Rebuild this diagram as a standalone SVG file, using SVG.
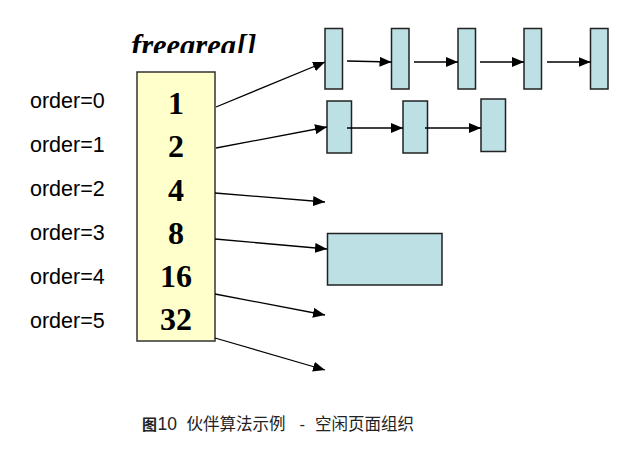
<svg xmlns="http://www.w3.org/2000/svg" width="632" height="452" viewBox="0 0 632 452">
<defs>
<style>
.lbl{font-family:"Liberation Sans",Arial,sans-serif;font-size:21.5px;fill:#000}
.num{font-family:"Liberation Serif","Times New Roman",serif;font-size:32px;font-weight:bold;fill:#000;text-anchor:middle}
.blk{fill:#BCE0E3;stroke:#222;stroke-width:1.5}
.con{stroke:#000;stroke-width:1.3;fill:none;marker-end:url(#ah)}
.cap{font-family:"Liberation Sans",Arial,"Noto Sans CJK SC",sans-serif;font-size:16.5px;fill:#222}
</style>
<marker id="ah" viewBox="0 0 12 10" refX="12" refY="5" markerWidth="12" markerHeight="10" markerUnits="userSpaceOnUse" orient="auto">
<path d="M0,0 L12,5 L0,10 Z" fill="#000"/>
</marker>
<clipPath id="tc"><rect x="100" y="20" width="200" height="33"/></clipPath>
</defs>
<rect width="632" height="452" fill="#fff"/>
<g id="title" clip-path="url(#tc)">
<text x="131" y="56" font-family="Liberation Serif,'Times New Roman',serif" font-size="30.5" font-weight="bold" font-style="italic" fill="#000">freearea[]</text>
</g>
<g id="labels">
<text class="lbl" x="30" y="108">order=0</text>
<text class="lbl" x="30" y="152">order=1</text>
<text class="lbl" x="30" y="196">order=2</text>
<text class="lbl" x="30" y="240">order=3</text>
<text class="lbl" x="30" y="284">order=4</text>
<text class="lbl" x="30" y="328">order=5</text>
</g>
<g id="freearea">
<rect x="137" y="72" width="78" height="269" fill="#FFFFCC" stroke="#333" stroke-width="1.5"/>
<text class="num" x="176" y="114">1</text>
<text class="num" x="176" y="157">2</text>
<text class="num" x="176" y="201">4</text>
<text class="num" x="176" y="244">8</text>
<text class="num" x="176" y="287">16</text>
<text class="num" x="176" y="330">32</text>
</g>
<g id="order0-blocks">
<rect class="blk" x="325" y="28.5" width="17.5" height="60.5"/>
<rect class="blk" x="391.5" y="28.5" width="17.5" height="60.5"/>
<rect class="blk" x="458" y="28.5" width="17.5" height="60.5"/>
<rect class="blk" x="524" y="28.5" width="17.5" height="60.5"/>
<rect class="blk" x="590.5" y="28.5" width="17.5" height="60.5"/>
</g>
<g id="order1-blocks">
<rect class="blk" x="327" y="101" width="24.5" height="52"/>
<rect class="blk" x="403" y="101" width="24.5" height="52"/>
<rect class="blk" x="481" y="99" width="24.5" height="52.5"/>
</g>
<g id="order3-block">
<rect class="blk" x="327.5" y="233.5" width="114.5" height="51.5"/>
</g>
<g id="connectors">
<line class="con" x1="216" y1="107" x2="325" y2="62"/>
<line class="con" x1="216" y1="148" x2="327" y2="127"/>
<line class="con" x1="215" y1="193" x2="325" y2="202"/>
<line class="con" x1="215" y1="239" x2="327" y2="249"/>
<line class="con" x1="215" y1="294" x2="325" y2="315"/>
<line class="con" x1="215" y1="338" x2="325" y2="370"/>
<line class="con" x1="347" y1="61" x2="391.5" y2="62"/>
<line class="con" x1="414" y1="62" x2="458" y2="62"/>
<line class="con" x1="480" y1="62" x2="524" y2="62"/>
<line class="con" x1="547" y1="62" x2="590.5" y2="62"/>
<line class="con" x1="347" y1="128" x2="403" y2="128"/>
<line class="con" x1="425" y1="128" x2="481" y2="128"/>
</g>
<g id="caption">
<text class="cap" y="430"><tspan x="142" font-weight="bold" font-size="15">图</tspan><tspan x="157.5" font-size="17.5">10</tspan><tspan x="186.5">伙伴算法示例</tspan><tspan x="299.5">-</tspan><tspan x="315">空闲页面组织</tspan></text>
</g>
</svg>
